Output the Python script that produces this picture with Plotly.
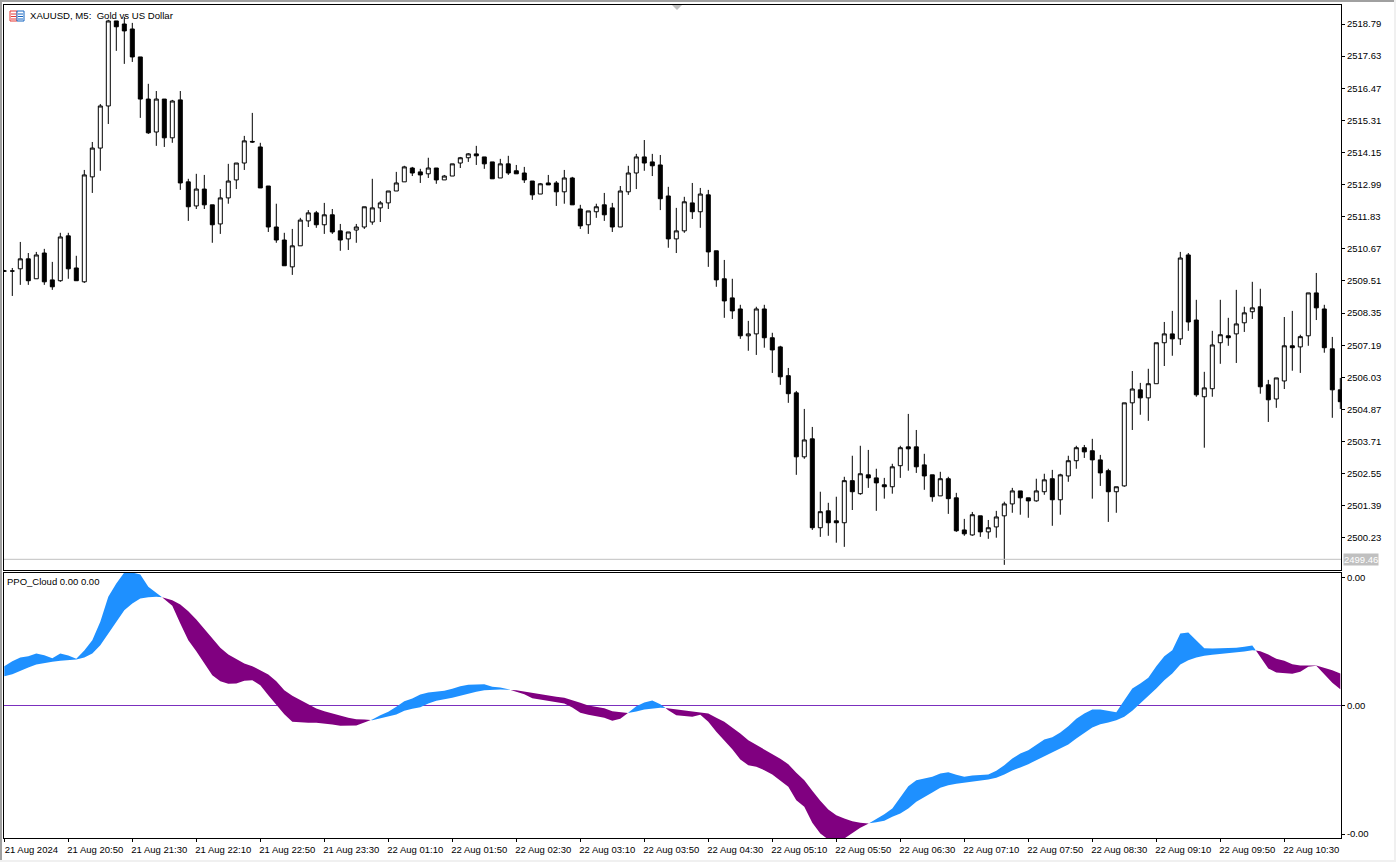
import plotly.graph_objects as go

W, H = 1396, 862
L_PX, R_PX, T_PX, B_PX = 4, 1341, 5, 838
BAR_PX = 8.0
FIRST_BAR_PX = 4.3

tick_labels = ["21 Aug 2024", "21 Aug 20:50", "21 Aug 21:30", "21 Aug 22:10", "21 Aug 22:50", "21 Aug 23:30",
               "22 Aug 01:10", "22 Aug 01:50", "22 Aug 02:30", "22 Aug 03:10", "22 Aug 03:50", "22 Aug 04:30",
               "22 Aug 05:10", "22 Aug 05:50", "22 Aug 06:30", "22 Aug 07:10", "22 Aug 07:50", "22 Aug 08:30",
               "22 Aug 09:10", "22 Aug 09:50", "22 Aug 10:30"]
price_ticks = [2518.79, 2517.63, 2516.47, 2515.31, 2514.15, 2512.99, 2511.83, 2510.67, 2509.51, 2508.35,
               2507.19, 2506.03, 2504.87, 2503.71, 2502.55, 2501.39, 2500.23]
bid_price = 2499.46

opens = [2509.87,2509.87,2509.95,2510.31,2509.59,2510.52,2509.55,2509.52,2511.14,2509.98,
2509.48,2513.27,2514.31,2515.83,2518.90,2518.79,2518.61,2517.60,2516.08,2514.89,
2516.08,2514.68,2516.05,2513.09,2512.22,2512.83,2512.26,2511.57,2512.51,2513.16,
2513.77,2514.55,2514.35,2512.94,2511.46,2510.99,2510.02,2510.78,2511.68,2511.97,
2511.54,2511.90,2511.32,2511.03,2511.35,2511.46,2511.64,2512.15,2512.33,2512.76,
2513.09,2513.59,2513.45,2513.38,2513.59,2513.16,2513.30,2513.77,2513.96,2514.10,
2513.99,2513.81,2513.23,2513.74,2513.49,2513.41,2513.12,2512.65,2513.05,2513.05,
2512.73,2513.23,2512.11,2511.54,2512.01,2512.26,2512.15,2511.46,2512.73,2513.41,
2513.99,2513.81,2513.70,2512.58,2511.03,2511.32,2512.33,2512.01,2512.62,2510.60,
2509.59,2508.90,2508.50,2507.53,2507.60,2508.50,2507.46,2507.13,2506.09,2505.47,
2503.16,2503.81,2500.60,2501.21,2500.85,2500.78,2502.30,2501.83,2502.51,2502.40,
2502.15,2502.08,2502.84,2503.52,2503.52,2502.87,2502.51,2501.75,2502.37,2501.68,
2500.52,2500.34,2501.03,2500.45,2500.63,2501.03,2501.46,2501.93,2501.68,2501.57,
2501.90,2502.37,2501.61,2502.47,2503.02,2503.49,2503.38,2503.05,2502.66,2501.90,
2502.11,2505.11,2505.58,2505.29,2505.80,2507.28,2507.60,2507.42,2510.45,2508.10,
2505.33,2505.62,2507.28,2507.53,2507.60,2508.00,2508.40,2508.58,2505.76,2505.25,
2505.90,2507.17,2507.13,2507.53,2509.08,2508.50,2507.06,2505.58]

highs = [2509.91,2509.98,2510.92,2510.52,2510.56,2510.67,2510.20,2511.25,2511.25,2510.42,
2513.52,2514.53,2515.90,2518.94,2518.90,2519.05,2518.83,2517.60,2516.63,2516.37,
2516.08,2516.05,2516.37,2513.20,2513.38,2513.34,2512.26,2512.83,2513.74,2513.77,
2514.75,2515.58,2514.50,2512.94,2512.30,2511.25,2511.39,2511.79,2512.07,2512.04,
2512.33,2512.11,2511.57,2511.28,2511.57,2512.19,2513.20,2512.40,2512.76,2513.45,
2513.67,2513.63,2513.56,2513.96,2513.59,2513.34,2513.74,2513.99,2514.13,2514.39,
2513.99,2513.81,2513.92,2514.03,2513.70,2513.63,2513.12,2513.05,2513.34,2513.12,
2513.52,2513.27,2512.26,2512.04,2512.30,2512.69,2512.33,2512.94,2513.67,2514.10,
2514.60,2514.10,2514.06,2512.91,2512.15,2512.55,2513.05,2512.87,2512.80,2510.60,
2510.27,2509.59,2508.65,2508.07,2508.58,2508.65,2507.64,2507.17,2506.37,2505.54,
2504.89,2504.24,2501.90,2501.50,2501.72,2502.44,2503.20,2503.56,2503.41,2502.73,
2502.40,2502.91,2503.56,2504.71,2504.13,2503.27,2502.51,2502.62,2502.44,2501.86,
2500.92,2501.17,2501.03,2500.88,2501.21,2501.54,2502.04,2501.93,2501.68,2502.37,
2502.55,2502.69,2502.55,2503.20,2503.56,2503.59,2503.81,2503.23,2502.73,2502.08,
2505.11,2506.26,2505.83,2506.34,2507.28,2508.03,2508.43,2510.56,2510.52,2508.83,
2506.23,2507.71,2508.83,2508.18,2509.19,2508.58,2509.48,2509.23,2505.94,2506.01,
2508.21,2508.43,2507.57,2509.08,2509.80,2508.65,2507.49,2506.01]

lows = [2509.84,2508.97,2509.37,2509.37,2509.59,2509.37,2509.19,2509.48,2509.59,2509.52,
2509.44,2512.69,2513.49,2515.18,2517.82,2517.35,2517.42,2515.40,2514.82,2514.39,
2514.35,2514.50,2512.80,2511.68,2512.11,2512.11,2510.89,2511.21,2512.30,2512.83,
2513.52,2514.50,2512.87,2511.28,2510.89,2510.06,2509.73,2510.78,2511.46,2511.43,
2511.21,2511.21,2510.60,2510.63,2510.89,2511.39,2511.54,2511.64,2512.11,2512.76,
2513.09,2513.30,2513.05,2513.23,2513.02,2513.16,2513.30,2513.59,2513.81,2513.70,
2513.56,2513.20,2513.23,2513.34,2513.38,2513.05,2512.44,2512.65,2512.98,2512.22,
2512.30,2512.26,2511.39,2511.21,2511.79,2511.68,2511.28,2511.46,2512.62,2512.83,
2513.49,2513.30,2512.07,2510.71,2510.52,2511.25,2511.75,2511.43,2510.02,2509.30,
2508.18,2508.14,2507.42,2506.99,2506.84,2507.10,2506.19,2505.76,2505.11,2502.51,
2503.09,2500.52,2500.27,2500.31,2500.06,2499.91,2501.24,2501.79,2502.04,2501.21,
2501.65,2501.83,2502.40,2502.66,2502.58,2501.97,2501.54,2501.75,2501.10,2500.45,
2500.31,2500.31,2500.27,2500.20,2500.24,2499.26,2501.14,2501.07,2500.96,2501.54,
2501.79,2500.67,2501.07,2502.26,2502.73,2503.12,2501.65,2502.11,2500.81,2501.14,
2502.08,2504.13,2504.68,2504.46,2505.80,2506.44,2506.81,2507.20,2507.71,2505.33,
2503.49,2505.33,2506.52,2507.17,2506.55,2507.67,2508.14,2505.44,2504.42,2504.93,
2505.61,2506.27,2506.19,2507.17,2508.10,2506.92,2504.57,2504.89]

closes = [2509.87,2509.87,2510.31,2509.52,2510.45,2509.48,2509.30,2511.10,2509.95,2509.52,
2513.34,2514.31,2515.83,2518.90,2518.69,2518.54,2517.60,2516.08,2514.86,2516.08,
2514.68,2516.01,2513.05,2512.19,2512.83,2512.26,2511.54,2512.51,2513.12,2513.77,
2514.57,2514.53,2512.87,2511.46,2510.99,2510.06,2510.78,2511.71,2511.97,2511.54,
2511.90,2511.28,2510.99,2511.28,2511.46,2512.19,2512.15,2512.33,2512.76,2513.05,
2513.63,2513.41,2513.34,2513.59,2513.16,2513.30,2513.74,2513.96,2514.10,2514.03,
2513.74,2513.20,2513.74,2513.41,2513.38,2513.16,2512.62,2513.02,2512.98,2512.73,
2513.23,2512.26,2511.50,2512.04,2512.19,2511.90,2511.46,2512.76,2513.41,2513.99,
2513.77,2513.67,2512.48,2511.03,2511.32,2512.37,2512.01,2512.65,2510.56,2509.55,
2508.79,2508.43,2507.53,2507.60,2508.50,2507.46,2507.02,2506.05,2505.44,2503.16,
2503.77,2500.60,2501.18,2500.78,2500.78,2502.30,2501.90,2502.55,2502.40,2502.22,
2502.08,2502.80,2503.49,2503.45,2502.80,2502.47,2501.72,2502.37,2501.65,2500.49,
2500.38,2501.07,2500.45,2500.60,2500.99,2501.46,2501.93,2501.68,2501.57,2501.93,
2502.33,2501.61,2502.51,2503.02,2503.49,2503.34,2503.05,2502.58,2501.90,2502.08,
2505.11,2505.61,2505.29,2505.80,2507.28,2507.60,2507.42,2510.34,2508.03,2505.40,
2505.65,2507.20,2507.57,2507.46,2507.96,2508.36,2508.54,2505.69,2505.22,2506.01,
2507.17,2507.10,2507.50,2509.08,2508.54,2507.10,2505.58,2505.15]

# PPO cloud lines, in units of 0.00001
ppo_fast = [118,133,144,148,156,151,142,156,150,140,
165,196,251,326,366,399,399,393,356,339,
319,299,246,196,163,126,91,73,65,66,
74,76,61,31,1,-26,-49,-51,-52,-52,
-54,-57,-61,-61,-60,-51,-42,-29,-19,-4,
13,21,33,39,41,44,50,58,62,64,
64,56,54,49,41,34,22,18,13,9,
6,-6,-22,-28,-32,-37,-46,-40,-22,-2,
9,15,4,-14,-29,-31,-34,-28,-49,-79,
-106,-131,-162,-179,-184,-194,-207,-226,-244,-284,
-304,-352,-384,-402,-404,-399,-384,-367,-355,-341,
-326,-309,-275,-242,-224,-218,-214,-204,-200,-208,
-214,-210,-209,-207,-196,-179,-159,-144,-134,-119,
-102,-95,-81,-62,-40,-24,-12,-12,-16,-20,
16,51,66,83,118,148,166,216,219,194,
172,171,171,171,173,176,180,146,111,99,
96,95,101,116,119,93,68,49]

ppo_slow = [88,94,103,114,123,127,131,134,137,138,
144,156,181,216,251,286,306,321,325,326,
324,316,303,283,258,231,201,173,153,139,
126,118,106,93,73,46,29,16,3,-9,
-17,-24,-31,-37,-41,-42,-44,-39,-33,-27,
-16,-10,-5,6,14,19,23,29,36,41,
46,48,48,47,46,44,38,34,30,26,
23,16,8,0,-4,-8,-17,-20,-23,-18,
-12,-10,-7,-8,-11,-16,-18,-21,-24,-37,
-49,-66,-84,-104,-118,-132,-146,-160,-176,-202,
-224,-256,-286,-312,-329,-339,-347,-352,-354,-350,
-346,-334,-324,-309,-289,-274,-261,-247,-239,-235,
-232,-227,-225,-222,-217,-207,-195,-186,-176,-164,
-152,-140,-129,-117,-99,-82,-66,-56,-51,-44,
-34,-16,6,29,51,76,96,123,136,144,
149,152,156,158,160,162,166,163,153,140,
134,124,120,120,120,114,106,96]

PPO_UNIT = 1e-5
ppo_tick_vals = [0.00383, 0.0, -0.00386]
ppo_tick_text = ["0.00", "0.00", "-0.00"]

BLUE = "#1E90FF"
PURPLE = "#800080"
FONT = "Liberation Sans"
FS = 9.5

bars = list(range(len(opens)))
fast = [v * PPO_UNIT for v in ppo_fast]
slow = [v * PPO_UNIT for v in ppo_slow]


def cloud_runs():
    runs, cur, cur_up = [], [], None
    for i in bars:
        up = fast[i] >= slow[i]
        if cur_up is not None and up != cur_up:
            d0, d1 = fast[i - 1] - slow[i - 1], fast[i] - slow[i]
            t = d0 / (d0 - d1)
            xc = i - 1 + t
            yc = fast[i - 1] + t * (fast[i] - fast[i - 1])
            cur.append((xc, yc, yc))
            runs.append((cur_up, cur))
            cur = [(xc, yc, yc)]
        cur.append((i, fast[i], slow[i]))
        cur_up = up
    runs.append((cur_up, cur))
    return runs


fig = go.Figure()
fig.add_trace(go.Candlestick(
    x=bars, open=opens, high=highs, low=lows, close=closes, xaxis="x", yaxis="y",
    increasing=dict(line=dict(color="black", width=1), fillcolor="white"),
    decreasing=dict(line=dict(color="black", width=1), fillcolor="black"),
    whiskerwidth=0, showlegend=False, hoverinfo="skip"))

for up, pts in cloud_runs():
    xs = [p[0] for p in pts] + [p[0] for p in reversed(pts)]
    ys = [p[1] for p in pts] + [p[2] for p in reversed(pts)]
    fig.add_trace(go.Scatter(x=xs, y=ys, xaxis="x2", yaxis="y2", mode="lines", fill="toself",
                             fillcolor=BLUE if up else PURPLE, line=dict(width=0),
                             showlegend=False, hoverinfo="skip"))

x0 = (L_PX - FIRST_BAR_PX) / BAR_PX
x1 = (R_PX - FIRST_BAR_PX) / BAR_PX
PH = B_PX - T_PX
PW = R_PX - L_PX


def px(x):
    return (x - L_PX) / PW


def py(y):
    return (B_PX - y) / PH


PRICE_PER_PX = 0.03611
price_at = lambda y: 2518.79 - (y - 24) * PRICE_PER_PX
tick_idx = [i * 8 for i in range(len(tick_labels))]

axis_common = dict(showgrid=False, zeroline=False, showline=True, linecolor="black", linewidth=1, mirror=True,
                   ticks="outside", ticklen=3, tickcolor="black", tickwidth=1,
                   tickfont=dict(family=FONT, size=FS, color="black"))

shapes = [
    # price line
    dict(type="line", xref="x", yref="y", x0=x0, x1=x1, y0=bid_price, y1=bid_price,
         line=dict(color="#C0C0C0", width=1)),
    # outer window frame
    dict(type="line", xref="paper", yref="paper", x0=px(0), x1=px(W), y0=py(1), y1=py(1),
         line=dict(color="#A0A0A0", width=2)),
    dict(type="line", xref="paper", yref="paper", x0=px(1), x1=px(1), y0=py(0), y1=py(H),
         line=dict(color="#A0A0A0", width=2)),
    dict(type="line", xref="paper", yref="paper", x0=px(W - 1), x1=px(W - 1), y0=py(0), y1=py(H),
         line=dict(color="#F0F0F0", width=2)),
    dict(type="line", xref="paper", yref="paper", x0=px(0), x1=px(W), y0=py(H - 1), y1=py(H - 1),
         line=dict(color="#F0F0F0", width=2)),
    # chart-shift marker
    dict(type="path", xref="paper", yref="paper",
         path=f"M {px(672)} {py(5)} L {px(682)} {py(5)} L {px(677)} {py(10)} Z",
         fillcolor="#C0C0C0", line=dict(width=0)),
    # symbol icon
    dict(type="rect", xref="paper", yref="paper", x0=px(10), x1=px(17), y0=py(21), y1=py(11),
         line=dict(color="#E53935", width=1), fillcolor="white"),
    dict(type="rect", xref="paper", yref="paper", x0=px(17), x1=px(24), y0=py(21), y1=py(11),
         line=dict(color="#1565C0", width=1), fillcolor="white"),
]
for yy in (14, 16.5, 19):
    shapes.append(dict(type="line", xref="paper", yref="paper", x0=px(11), x1=px(16), y0=py(yy), y1=py(yy),
                       line=dict(color="#E53935", width=1)))
    shapes.append(dict(type="line", xref="paper", yref="paper", x0=px(18), x1=px(23), y0=py(yy), y1=py(yy),
                       line=dict(color="#1565C0", width=1)))

annotations = [
    dict(text="XAUUSD, M5:  Gold vs US Dollar", xref="paper", yref="paper", x=px(27.5), y=py(15.5), xanchor="left",
         yanchor="middle", showarrow=False, font=dict(family=FONT, size=9.6, color="black")),
    dict(text="PPO_Cloud 0.00 0.00", xref="paper", yref="paper", x=px(5), y=py(581), xanchor="left",
         yanchor="middle", showarrow=False, font=dict(family=FONT, size=FS, color="black")),
    dict(text=f"{bid_price:.2f}", xref="paper", yref="paper", x=px(1343), y=py(560), xanchor="left",
         yanchor="middle", showarrow=False, bgcolor="#C0C0C0", borderpad=0,
         font=dict(family=FONT, size=FS, color="white")),
]

fig.update_layout(
    width=W, height=H, paper_bgcolor="white", plot_bgcolor="white", showlegend=False,
    margin=dict(l=L_PX, r=W - R_PX, t=T_PX, b=H - B_PX, pad=0), boxgap=0.5, boxgroupgap=0,
    shapes=shapes, annotations=annotations,
    xaxis=dict(anchor="y", domain=[0, 1], range=[x0, x1], rangeslider=dict(visible=False), showticklabels=False,
               showgrid=False, zeroline=False, showline=True, linecolor="black", mirror=True, ticks=""),
    xaxis2=dict(anchor="y2", domain=[0, 1], range=[x0, x1], matches="x", tickmode="array", tickvals=tick_idx,
                ticktext=tick_labels, tickangle=0, ticklabelshift=27, ticklabeloverflow="allow", **axis_common),
    yaxis=dict(anchor="x", domain=[py(570), 1], range=[price_at(570), price_at(T_PX)], side="right",
               tickmode="array", tickvals=price_ticks, ticktext=[f"{v:.2f}" for v in price_ticks], **axis_common),
    yaxis2=dict(anchor="x2", domain=[0, py(573)], range=[-397.5 * PPO_UNIT, 397.5 * PPO_UNIT], side="right",
                tickmode="array", tickvals=ppo_tick_vals, ticktext=ppo_tick_text, **axis_common),
)
fig.layout.yaxis2.zeroline = True
fig.layout.yaxis2.zerolinecolor = "#7B2FBE"
fig.layout.yaxis2.zerolinewidth = 1

fig.write_html("out.html", config=dict(displayModeBar=False),
               post_script="document.body.style.margin='0';document.body.style.overflow='hidden';")
